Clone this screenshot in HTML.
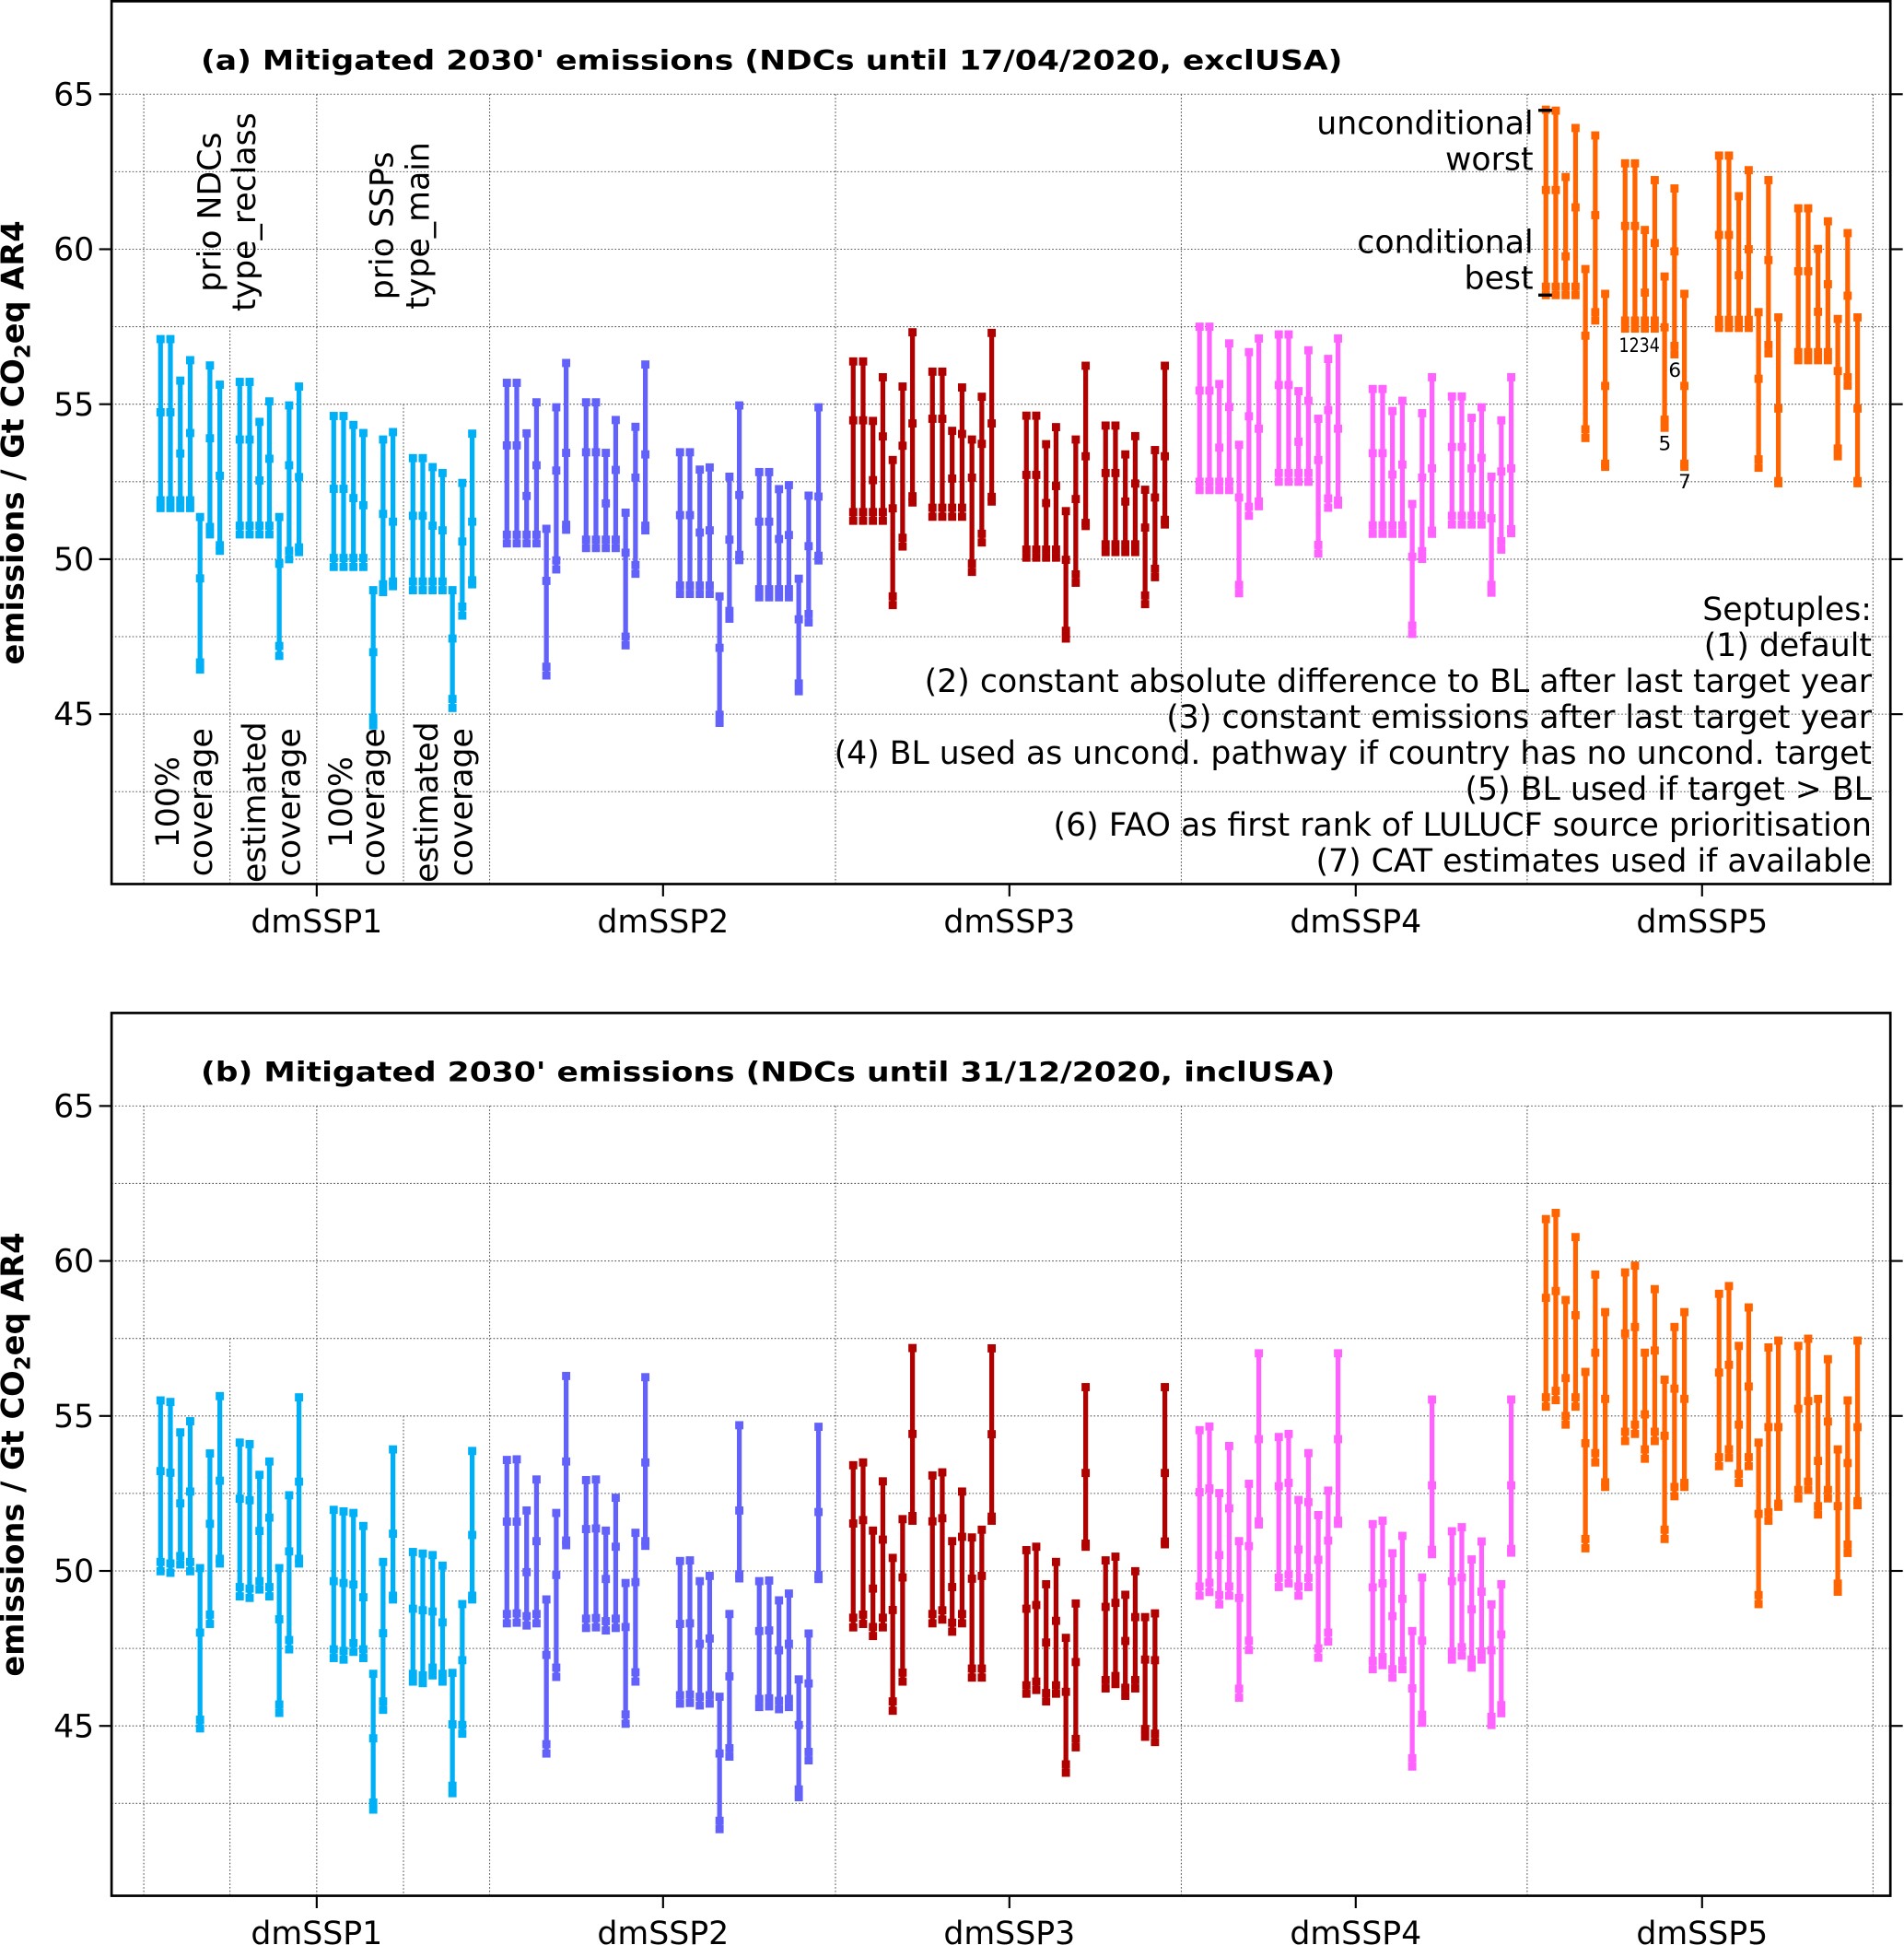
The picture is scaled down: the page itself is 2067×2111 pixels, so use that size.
<!DOCTYPE html>
<html><head><meta charset="utf-8"><title>Mitigated 2030 emissions</title>
<style>html,body{margin:0;padding:0;background:#fff}svg{display:block}text{font-family:"DejaVu Sans","Liberation Sans",sans-serif;fill:#000}</style>
</head><body>
<svg id="chart" xmlns="http://www.w3.org/2000/svg" width="2067" height="2111" viewBox="0 0 1536 1568.7" preserveAspectRatio="none">
<g id="panelA"></g>
<g id="panelB"></g>
<g>
<text x="162" y="56" font-size="22" font-weight="bold" textLength="921" lengthAdjust="spacingAndGlyphs">(a) Mitigated 2030' emissions (NDCs until 17/04/2020, exclUSA)</text>
<text transform="translate(178,171) rotate(-90)" text-anchor="middle" font-size="25.8">prio NDCs</text>
<text transform="translate(206,171) rotate(-90)" text-anchor="middle" font-size="25.8">type_reclass</text>
<text transform="translate(317,182) rotate(-90)" text-anchor="middle" font-size="25.8">prio SSPs</text>
<text transform="translate(346,182) rotate(-90)" text-anchor="middle" font-size="25.8">type_main</text>
<text transform="translate(144,647) rotate(-90)" text-anchor="middle" font-size="25.8">100%</text>
<text transform="translate(171,647) rotate(-90)" text-anchor="middle" font-size="25.8">coverage</text>
<text transform="translate(214,647) rotate(-90)" text-anchor="middle" font-size="25.8">estimated</text>
<text transform="translate(242,647) rotate(-90)" text-anchor="middle" font-size="25.8">coverage</text>
<text transform="translate(284,647) rotate(-90)" text-anchor="middle" font-size="25.8">100%</text>
<text transform="translate(310,647) rotate(-90)" text-anchor="middle" font-size="25.8">coverage</text>
<text transform="translate(353,647) rotate(-90)" text-anchor="middle" font-size="25.8">estimated</text>
<text transform="translate(381,647) rotate(-90)" text-anchor="middle" font-size="25.8">coverage</text>
<text x="1237" y="108" text-anchor="end" font-size="25.8">unconditional</text>
<text x="1237" y="137" text-anchor="end" font-size="25.8">worst</text>
<text x="1237" y="204" text-anchor="end" font-size="25.8">conditional</text>
<text x="1237" y="233" text-anchor="end" font-size="25.8">best</text>
<line x1="1241" y1="89" x2="1252" y2="89" stroke="#000" stroke-width="2.5"/>
<line x1="1241" y1="238" x2="1252" y2="238" stroke="#000" stroke-width="2.5"/>
<text x="1306" y="284" font-size="16" textLength="33" lengthAdjust="spacingAndGlyphs">1234</text>
<text x="1346" y="304" font-size="16">6</text>
<text x="1338" y="363" font-size="16">5</text>
<text x="1354" y="394" font-size="16">7</text>
<g font-size="25.8" text-anchor="end">
<text x="1510" y="500">Septuples:</text>
<text x="1510" y="529">(1) default</text>
<text x="1510" y="558">(2) constant absolute difference to BL after last target year</text>
<text x="1510" y="587">(3) constant emissions after last target year</text>
<text x="1510" y="616" textLength="837" lengthAdjust="spacingAndGlyphs">(4) BL used as uncond. pathway if country has no uncond. target</text>
<text x="1510" y="645">(5) BL used if target &gt; BL</text>
<text x="1510" y="674">(6) FAO as first rank of LULUCF source prioritisation</text>
<text x="1510" y="703">(7) CAT estimates used if available</text>
</g>
</g>
<text x="162" y="872" font-size="22" font-weight="bold" textLength="915" lengthAdjust="spacingAndGlyphs">(b) Mitigated 2030' emissions (NDCs until 31/12/2020, inclUSA)</text>
</svg>
<script>
const groups = ['dmSSP1','dmSSP2','dmSSP3','dmSSP4','dmSSP5'];
const colors = ['#00b0f6','#6262fb','#b00000','#ff62ff','#ff6400'];
const yTicks = [65,60,55,50,45];
const yGrid = [65,62.5,60,57.5,55,52.5,50,47.5,45,42.5];

const aTop = [57.1,57.1,55.76,56.42,51.36,56.25,55.63, 55.72,55.72,54.43,55.09,51.36,54.96,55.57, 54.62,54.62,54.33,54.07,49.0,53.86,54.1, 53.26,53.26,52.97,52.78,49.0,52.46,54.05,
55.69,55.69,54.06,55.06,50.98,54.9,56.33, 55.06,55.06,53.43,54.49,51.5,54.27,56.28, 53.45,53.45,52.89,52.96,48.8,52.66,54.96, 52.81,52.81,52.26,52.39,49.37,52.05,54.9,
56.38,56.38,54.46,55.87,53.2,55.57,57.32, 56.05,56.05,54.14,55.54,53.86,55.24,57.3, 54.63,54.63,53.71,54.26,51.55,53.86,56.24, 54.31,54.31,53.38,53.97,52.24,53.52,56.24,
57.5,57.5,55.65,56.96,53.69,56.68,57.12, 57.25,57.25,55.42,56.74,54.53,56.46,57.12, 55.49,55.49,54.78,55.11,51.78,54.71,55.87, 55.25,55.25,54.56,54.9,52.66,54.48,55.87,
64.5,64.47,62.33,63.91,59.36,63.67,58.56, 62.77,62.77,60.62,62.23,59.12,61.96,58.56, 63.02,63.02,61.71,62.55,57.97,62.23,57.8, 61.32,61.32,60.01,60.9,57.75,60.52,57.8];
const aMid = [54.74,54.74,53.41,54.07,49.38,53.9,52.69, 53.86,53.86,52.54,53.24,49.85,53.03,52.65, 52.27,52.27,51.97,51.74,47.0,51.46,51.21, 51.4,51.4,51.08,50.93,47.44,50.57,51.21,
53.67,53.67,52.04,53.03,49.3,52.86,53.43, 53.45,53.45,51.8,52.88,50.21,52.63,53.38, 51.42,51.42,50.86,50.93,47.14,50.63,52.07, 51.21,51.21,50.65,50.78,48.06,50.42,52.02,
54.48,54.48,52.55,53.96,51.64,53.66,54.38, 54.53,54.53,52.6,54.04,52.63,53.72,54.38, 52.72,52.72,51.81,52.36,49.98,51.94,53.32, 52.78,52.78,51.86,52.44,51.02,51.99,53.32,
55.44,55.44,53.6,54.91,51.99,54.61,54.21, 55.62,55.62,53.79,55.11,53.2,54.81,54.21, 53.42,53.42,52.73,53.05,50.08,52.63,52.93, 53.62,53.62,52.93,53.27,51.32,52.83,52.93,
61.91,61.91,59.77,61.35,57.21,61.1,55.59, 60.75,60.75,58.6,60.2,57.48,59.93,55.59, 60.46,60.46,59.16,60.0,55.82,59.65,54.86, 59.29,59.29,57.98,58.87,56.07,58.5,54.86];
const aLow = [51.9,51.9,51.9,51.9,46.67,51.04,50.45, 51.08,51.08,51.08,51.08,47.2,50.27,50.38, 50.04,50.04,50.04,50.04,44.89,49.19,49.28, 49.28,49.28,49.28,49.28,45.49,48.47,49.32,
50.79,50.79,50.79,50.79,46.53,49.96,51.11, 50.63,50.63,50.63,50.63,47.5,49.81,51.08, 49.15,49.15,49.15,49.15,44.98,48.33,50.14, 49.03,49.03,49.03,49.03,45.99,48.23,50.11,
51.52,51.52,51.52,51.52,48.8,50.69,52.03, 51.66,51.66,51.66,51.66,49.86,50.82,52.01, 50.31,50.31,50.31,50.31,47.69,49.51,51.17, 50.48,50.48,50.48,50.48,48.83,49.69,51.27,
52.5,52.5,52.5,52.5,49.17,51.69,51.86, 52.78,52.78,52.78,52.78,50.46,51.96,51.89, 51.09,51.09,51.09,51.09,47.86,50.26,50.92, 51.4,51.4,51.4,51.4,49.17,50.58,50.97,
58.79,58.79,58.79,58.79,54.19,57.97,53.08, 57.7,57.7,57.7,57.7,54.5,56.88,53.08, 57.72,57.72,57.72,57.72,53.22,56.91,52.52, 56.68,56.68,56.68,56.68,53.57,55.87,52.52];
const aBot = [51.65,51.65,51.65,51.65,46.44,50.8,50.27, 50.8,50.8,50.8,50.8,46.88,50.0,50.23, 49.75,49.75,49.75,49.75,44.64,48.94,49.13, 49.0,49.0,49.0,49.0,45.2,48.18,49.19,
50.51,50.51,50.51,50.51,46.25,49.67,50.95, 50.36,50.36,50.36,50.36,47.22,49.53,50.93, 48.88,48.88,48.88,48.88,44.72,48.08,49.97, 48.77,48.77,48.77,48.77,45.74,47.96,49.96,
51.24,51.24,51.24,51.24,48.52,50.41,51.83, 51.37,51.37,51.37,51.37,49.59,50.54,51.86, 50.05,50.05,50.05,50.05,47.44,49.24,51.07, 50.23,50.23,50.23,50.23,48.55,49.42,51.12,
52.23,52.23,52.23,52.23,48.9,51.4,51.71, 52.5,52.5,52.5,52.5,50.18,51.66,51.76, 50.82,50.82,50.82,50.82,47.59,50.01,50.82, 51.12,51.12,51.12,51.12,48.92,50.31,50.84,
58.52,58.52,58.52,58.52,53.91,57.7,52.98, 57.44,57.44,57.44,57.44,54.24,56.61,52.98, 57.46,57.46,57.46,57.46,52.95,56.64,52.45, 56.42,56.42,56.42,56.42,53.32,55.6,52.45];

const bTop = [55.5,55.45,54.47,54.83,50.09,53.79,55.64, 54.14,54.09,53.1,53.53,50.09,52.44,55.6, 51.97,51.92,51.87,51.45,46.68,50.29,53.92, 50.61,50.56,50.51,50.17,46.71,48.93,53.87,
53.58,53.6,51.95,52.95,49.08,51.87,56.29, 52.93,52.95,51.3,52.36,49.61,51.23,56.25, 50.32,50.34,49.67,49.84,45.94,48.61,54.7, 49.67,49.69,49.05,49.27,46.5,47.98,54.65,
53.41,53.5,51.3,52.89,50.42,51.67,57.19, 53.08,53.18,50.96,52.56,51.08,51.33,57.18, 50.67,50.78,49.57,50.29,47.84,48.95,55.93, 50.34,50.46,49.23,49.99,48.51,48.63,55.93,
54.54,54.66,52.51,54.03,50.96,52.81,57.02, 54.32,54.42,52.29,53.8,51.8,52.59,57.02, 51.51,51.62,50.57,51.13,48.06,49.79,55.53, 51.28,51.41,50.37,50.95,48.92,49.57,55.53,
61.35,61.55,58.74,60.77,56.42,59.56,58.35, 59.63,59.85,57.04,59.09,56.17,57.87,58.35, 58.94,59.19,57.26,58.5,54.14,57.21,57.43, 57.26,57.49,55.55,56.83,53.92,55.5,57.43];
const bMid = [53.22,53.17,52.18,52.56,48.01,51.52,52.91, 52.33,52.28,51.29,51.72,48.44,50.63,52.88, 49.67,49.61,49.56,49.15,44.6,47.99,51.2, 48.78,48.73,48.69,48.34,45.05,47.12,51.16,
51.59,51.59,49.96,50.96,47.29,49.87,53.53, 51.35,51.37,49.74,50.78,48.19,49.64,53.5, 48.29,48.31,47.65,47.82,44.11,46.6,51.95, 48.06,48.08,47.44,47.65,45.03,46.37,51.9,
51.53,51.64,49.43,51.01,48.74,49.79,54.42, 51.6,51.7,49.48,51.1,49.75,49.84,54.41, 48.78,48.9,47.69,48.39,46.1,47.06,53.16, 48.84,48.97,47.74,48.51,47.14,47.12,53.16,
52.54,52.66,50.51,52.02,49.13,50.8,54.25, 52.73,52.84,50.69,52.22,50.36,50.98,54.25, 49.47,49.6,48.54,49.1,46.21,47.75,52.76, 49.67,49.79,48.76,49.33,47.44,47.95,52.76,
58.81,59.03,56.22,58.25,54.12,57.04,55.55, 57.66,57.87,55.05,57.11,54.36,55.88,55.55, 56.4,56.65,54.72,55.95,51.84,54.64,54.64, 55.23,55.48,53.55,54.82,52.09,53.48,54.64];
const bLow = [50.29,50.24,50.48,50.29,45.2,48.59,50.39, 49.48,49.43,49.67,49.48,45.69,47.77,50.39, 47.47,47.42,47.67,47.47,42.53,45.79,49.2, 46.68,46.63,46.88,46.68,43.07,45.03,49.2,
48.61,48.63,48.54,48.61,44.41,46.88,50.98, 48.46,48.48,48.38,48.46,45.37,46.73,50.96, 45.99,46.01,45.94,45.99,41.94,44.28,49.89, 45.87,45.89,45.81,45.87,42.95,44.16,49.87,
48.49,48.59,48.19,48.49,45.79,46.72,51.77, 48.61,48.73,48.33,48.61,46.85,46.85,51.75, 46.31,46.43,46.06,46.31,43.76,44.58,50.88, 46.48,46.61,46.23,46.48,44.9,44.75,50.95,
49.5,49.62,49.22,49.5,46.2,47.75,51.6, 49.78,49.89,49.5,49.78,47.5,48.01,51.62, 47.1,47.22,46.83,47.1,43.96,45.36,50.68, 47.4,47.54,47.14,47.4,45.29,45.67,50.71,
55.6,55.81,55.0,55.6,51.03,53.8,52.86, 54.49,54.72,53.92,54.49,51.33,52.71,52.84, 53.67,53.92,53.13,53.67,49.22,51.89,52.17, 52.61,52.88,52.09,52.61,49.59,50.85,52.25];
const bBot = [49.99,49.94,50.21,49.99,44.92,48.29,50.24, 49.18,49.13,49.4,49.18,45.42,47.47,50.24, 47.19,47.14,47.39,47.19,42.3,45.52,49.08, 46.43,46.38,46.63,46.43,42.83,44.75,49.08,
48.31,48.33,48.24,48.31,44.11,46.58,50.83, 48.16,48.18,48.08,48.16,45.07,46.43,50.81, 45.72,45.74,45.66,45.72,41.67,44.01,49.76, 45.61,45.63,45.54,45.61,42.7,43.89,49.74,
48.18,48.29,47.9,48.18,45.49,46.43,51.62, 48.31,48.43,48.04,48.31,46.56,46.56,51.62, 46.04,46.16,45.79,46.04,43.49,44.31,50.78, 46.21,46.35,45.97,46.21,44.65,44.48,50.86,
49.2,49.32,48.92,49.2,45.91,47.45,51.5, 49.48,49.6,49.2,49.48,47.2,47.72,51.52, 46.83,46.96,46.56,46.83,43.69,45.1,50.54, 47.14,47.27,46.88,47.14,45.03,45.41,50.59,
55.3,55.51,54.72,55.3,50.73,53.5,52.71, 54.19,54.42,53.62,54.19,51.03,52.41,52.71, 53.38,53.65,52.84,53.38,48.93,51.62,52.07, 52.34,52.61,51.82,52.34,49.33,50.58,52.12];

const NS = 'http://www.w3.org/2000/svg';
function mk(parent, tag, attrs) {
  const e = document.createElementNS(NS, tag);
  for (const k in attrs) e.setAttribute(k, attrs[k]);
  parent.appendChild(e);
  return e;
}
const subOff = [0, 63.9, 139.7, 203.6];
function xBar(g, s, k) { return 129.5 + 279.4 * g + subOff[s] + 7.97 * k; }
function xGroup(g) { return 255.5 + 279.4 * g; }

function drawPanel(root, top0, topS, botS, tops, mids, lows, bots) {
  const yv = v => top0 + (65 - v) * 25;
  const L = 90, R = 1525;
  yGrid.forEach(v => {
    const gl = mk(root, 'line', {x1: L, x2: R, y1: yv(v), y2: yv(v), stroke: '#555', 'stroke-width': 0.8, 'stroke-dasharray': '1.2,1.6'});
    
    
  });
  [116, 255.5, 395, 674, 953, 1232, 1511].forEach(x => {
    const vl = mk(root, 'line', {x1: x, x2: x, y1: yv(65), y2: botS, stroke: '#555', 'stroke-width': 0.8, 'stroke-dasharray': '1.2,1.6'});
    
    
  });
  [[185.5, 57.5], [325.5, 55]].forEach(p => {
    const vl = mk(root, 'line', {x1: p[0], x2: p[0], y1: yv(p[1]), y2: botS, stroke: '#555', 'stroke-width': 0.8, 'stroke-dasharray': '1.2,1.6'});
    
    
  });
  for (let g = 0; g < 5; g++) {
    for (let s = 0; s < 4; s++) {
      for (let k = 0; k < 7; k++) {
        const i = g * 28 + s * 7 + k;
        const x = xBar(g, s, k);
        const ln = mk(root, 'line', {x1: x, x2: x, y1: yv(tops[i]), y2: yv(bots[i]), stroke: colors[g], 'stroke-width': 3.9});
        
        
        [tops[i], mids[i], lows[i], bots[i]].forEach(v => {
          const m = mk(root, 'rect', {x: x - 3.3, y: yv(v) - 3.3, width: 6.6, height: 6.6, fill: colors[g]});
          
          
        });
      }
    }
  }
  const fr = mk(root, 'rect', {x: L, y: topS, width: R - L, height: botS - topS, fill: 'none', stroke: '#000', 'stroke-width': 2});
  
  
  yTicks.forEach(v => {
    const t1 = mk(root, 'line', {x1: L - 10, x2: L, y1: yv(v), y2: yv(v), stroke: '#000', 'stroke-width': 1.6});
    
    
    const t2 = mk(root, 'line', {x1: R, x2: R + 10, y1: yv(v), y2: yv(v), stroke: '#000', 'stroke-width': 1.6});
    
    
    const tl = mk(root, 'text', {x: 76, y: yv(v) + 9, 'text-anchor': 'end', 'font-size': 25.8});
    tl.textContent = String(v);
    
    
  });
  groups.forEach((name, g) => {
    const x = xGroup(g);
    const t = mk(root, 'line', {x1: x, x2: x, y1: botS, y2: botS + 10, stroke: '#000', 'stroke-width': 1.6});
    
    
    const tl = mk(root, 'text', {x: x, y: botS + 39, 'text-anchor': 'middle', 'font-size': 25.8});
    tl.textContent = name;
    
    
  });
  const yc = (topS + botS) / 2;
  const yt = mk(root, 'text', {transform: 'translate(19,' + yc + ') rotate(-90)', 'text-anchor': 'middle', 'font-size': 25, 'font-weight': 'bold'});
  
  
  const t1 = document.createElementNS(NS, 'tspan'); t1.textContent = 'emissions / Gt CO'; yt.appendChild(t1);
  const t2 = document.createElementNS(NS, 'tspan'); t2.textContent = '2'; t2.setAttribute('font-size', '17'); t2.setAttribute('dy', '5'); yt.appendChild(t2);
  const t3 = document.createElementNS(NS, 'tspan'); t3.textContent = 'eq AR4'; t3.setAttribute('dy', '-5'); yt.appendChild(t3);
}
drawPanel(document.getElementById('panelA'), 76, 1, 713, aTop, aMid, aLow, aBot);
drawPanel(document.getElementById('panelB'), 892, 817, 1529, bTop, bMid, bLow, bBot);
</script>
</body></html>
